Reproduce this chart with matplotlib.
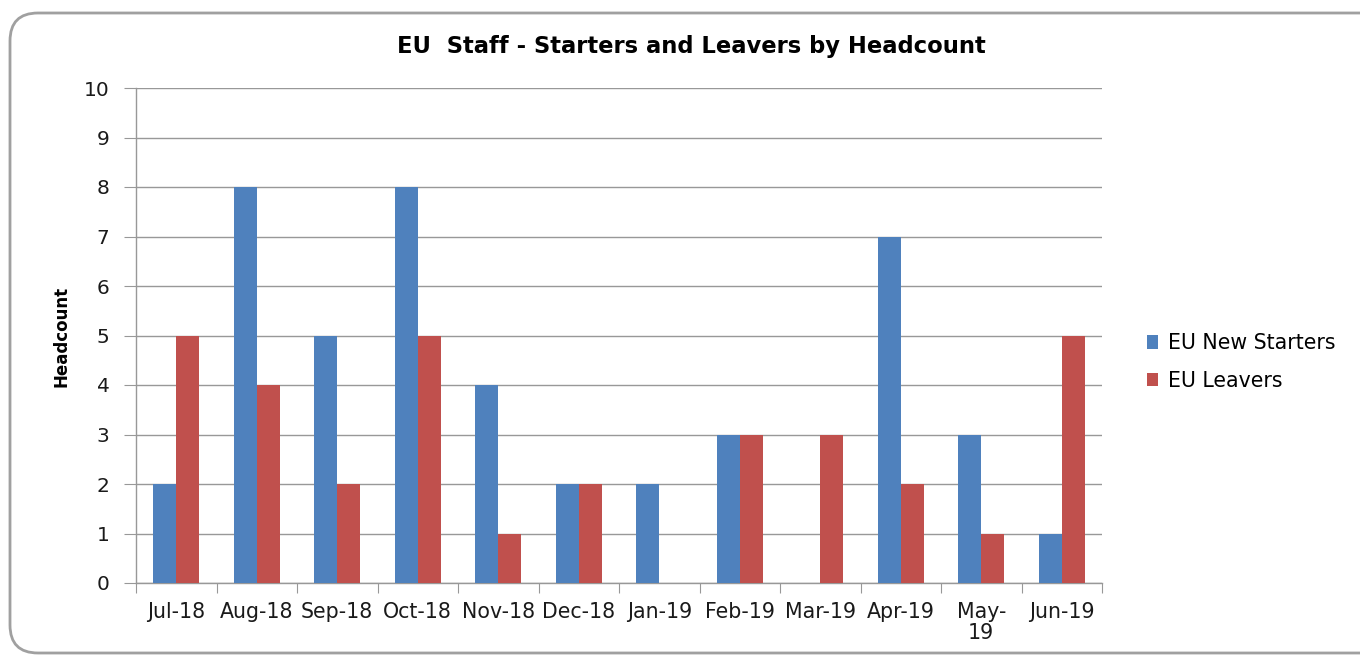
import matplotlib
matplotlib.use("Agg")
import matplotlib.pyplot as plt
from matplotlib.patches import FancyBboxPatch, Patch
from matplotlib.transforms import IdentityTransform
import numpy as np

months = ["Jul-18", "Aug-18", "Sep-18", "Oct-18", "Nov-18", "Dec-18",
          "Jan-19", "Feb-19", "Mar-19", "Apr-19", "May-\n19", "Jun-19"]
new_starters = [2, 8, 5, 8, 4, 2, 2, 3, 0, 7, 3, 1]
leavers = [5, 4, 2, 5, 1, 2, 0, 3, 3, 2, 1, 5]
yticks = list(range(0, 11))

BLUE = "#4F81BD"
RED = "#C0504D"
GRID = "#989898"

plt.rcParams['font.family'] = ['DejaVu Sans']

W, H = 1360, 655
fig = plt.figure(figsize=(W / 100, H / 100), dpi=100)

# outer rounded frame (display pixel coordinates)
frame = FancyBboxPatch((10, 2), 1380, 640,
                       boxstyle="round,pad=0,rounding_size=28",
                       transform=IdentityTransform(), facecolor="white",
                       edgecolor="#A0A0A0", linewidth=2.0, zorder=-5)
fig.patches.append(frame)

ax = fig.add_axes([136 / W, 1 - 583 / H, (1102 - 136) / W, (583 - 88) / H])
ax.set_facecolor("none")
ax.set_zorder(2)

x = np.arange(len(months))
bw = 0.287
ax.bar(x - bw / 2, new_starters, width=bw, color=BLUE, zorder=3, label="EU New Starters")
ax.bar(x + bw / 2, leavers, width=bw, color=RED, zorder=3, label="EU Leavers")

ax.set_xlim(-0.5, len(months) - 0.5)
ax.set_ylim(0, 10)
ax.set_yticks(yticks)
ax.yaxis.grid(True, color=GRID, linewidth=1.0, zorder=0)
ax.set_axisbelow(True)

ax.set_xticks(np.arange(-0.5, len(months), 1.0))
ax.set_xticklabels([])
ax.set_xticks(x, minor=True)
ax.set_xticklabels(months, minor=True, fontsize=14.8, color="#1a1a1a", linespacing=1.05)
ax.tick_params(axis="x", which="major", length=7, color=GRID, direction="out")
ax.tick_params(axis="x", which="minor", length=0, pad=14)
ax.tick_params(axis="y", length=9, color=GRID, direction="out", labelsize=14.5, pad=10,
               labelcolor="#1a1a1a")

for s in ["top", "right"]:
    ax.spines[s].set_visible(False)
for s in ["left", "bottom"]:
    ax.spines[s].set_color(GRID)
    ax.spines[s].set_linewidth(1.0)

fig.text(0.508, 1 - 46 / H, "EU  Staff - Starters and Leavers by Headcount",
         ha="center", va="center", fontsize=16.3, fontweight="bold")
fig.text(61 / W, 1 - 336 / H, "Headcount", rotation=90, ha="center", va="center",
         fontsize=12, fontweight="bold",
         family=['Liberation Sans Narrow', 'DejaVu Sans'])

handles = [Patch(facecolor=BLUE), Patch(facecolor=RED)]
fig.legend(handles, ["EU New Starters", "EU Leavers"], loc="center left",
           bbox_to_anchor=(1128 / W, 1 - 362 / H), frameon=False, fontsize=14.8,
           handlelength=0.55, handleheight=0.6, handletextpad=0.5, labelspacing=0.85)

fig.savefig("out.png", dpi=100)
